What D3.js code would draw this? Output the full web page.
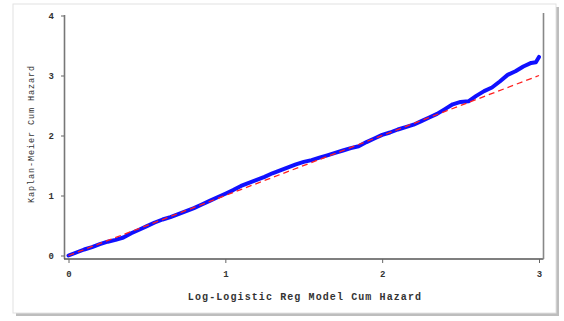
<!DOCTYPE html>
<html>
<head>
<meta charset="utf-8">
<script src="https://cdn.jsdelivr.net/npm/d3@7"></script>
<style>
  body { margin: 0; background: #fff; }
  text { font-family: "Liberation Mono", "DejaVu Sans Mono", monospace; fill: #333; }
</style>
</head>
<body>
<div id="chart"></div>
<script>
// model cum hazard (x) vs Kaplan-Meier cum hazard (y)
const modelHaz = [0, 0.05, 0.1, 0.15, 0.2, 0.25, 0.3, 0.35, 0.4, 0.45, 0.5, 0.55, 0.6, 0.65, 0.7, 0.75,
  0.8, 0.85, 0.9, 0.95, 1.0, 1.05, 1.1, 1.15, 1.2, 1.25, 1.3, 1.35, 1.4, 1.45, 1.5, 1.55, 1.6, 1.65,
  1.7, 1.75, 1.8, 1.85, 1.9, 1.95, 2.0, 2.05, 2.1, 2.15, 2.2, 2.25, 2.3, 2.35, 2.4, 2.45, 2.5, 2.55,
  2.6, 2.65, 2.7, 2.75, 2.8, 2.85, 2.9, 2.95, 2.98, 3.0]
const kmHaz = [0, 0.05, 0.1, 0.14, 0.19, 0.23, 0.26, 0.30, 0.37, 0.43, 0.49, 0.55, 0.60, 0.64, 0.69, 0.74,
  0.79, 0.85, 0.91, 0.97, 1.03, 1.09, 1.16, 1.21, 1.26, 1.31, 1.37, 1.42, 1.47, 1.52, 1.56, 1.59, 1.63, 1.67,
  1.71, 1.75, 1.79, 1.82, 1.89, 1.95, 2.01, 2.05, 2.1, 2.14, 2.18, 2.24, 2.3, 2.36, 2.44, 2.52, 2.56, 2.57,
  2.66, 2.74, 2.80, 2.90, 3.01, 3.07, 3.15, 3.21, 3.22, 3.31]
const refLine = [0, 3]
const xTicks = [0, 1, 2, 3]
const yTicks = [0, 1, 2, 3, 4]

const W = 564, H = 321

const svg = d3.select('#chart').append('svg')
    .attr('width', W)
    .attr('height', H)

// frame with soft shadow
svg.append('rect')
    .attr('x', 16).attr('y', 7).attr('width', 543).attr('height', 309)
    .attr('fill', '#bdbdbd')
svg.append('rect')
    .attr('x', 13).attr('y', 4).attr('width', 543).attr('height', 309)
    .attr('fill', '#fff')
    .attr('stroke', '#e2e2e2')

var x = d3.scaleLinear().domain([0, 3]).range([68.5, 539])
var y = d3.scaleLinear().domain([0, 4]).range([255.5, 15.5])

// axis lines
svg.append('line').attr('x1', 64.5).attr('x2', 64.5).attr('y1', 15).attr('y2', 259)
    .attr('stroke', '#777').attr('stroke-width', 1.6)
svg.append('line').attr('x1', 64).attr('x2', 543.5).attr('y1', 259).attr('y2', 259)
    .attr('stroke', '#555').attr('stroke-width', 1.4)
svg.append('line').attr('x1', 543.5).attr('x2', 543.5).attr('y1', 13).attr('y2', 259)
    .attr('stroke', '#888').attr('stroke-width', 1.6)

var yAxis = svg.append('g')
    .attr('transform', 'translate(64,0)')
    .call(d3.axisLeft(y).tickValues(yTicks).tickFormat(d3.format('d')).tickSize(3).tickPadding(7))
yAxis.select('.domain').remove()
yAxis.selectAll('line').attr('stroke', '#666')
yAxis.selectAll('text').style('font-size', '9px').style('font-weight', 'bold').attr('fill', '#444')

var xAxis = svg.append('g')
    .attr('transform', 'translate(0,259)')
    .call(d3.axisBottom(x).tickValues(xTicks).tickFormat(d3.format('d')).tickSize(4).tickPadding(8))
xAxis.select('.domain').remove()
xAxis.selectAll('line').attr('stroke', '#666')
xAxis.selectAll('text').style('font-size', '9px').style('font-weight', 'bold').attr('fill', '#444')

// titles
svg.append('text')
    .attr('x', 305).attr('y', 300)
    .attr('text-anchor', 'middle')
    .style('font-size', '10px')
    .style('letter-spacing', '1.1px')
    .style('font-weight', 'bold')
    .attr('fill', '#444')
    .text('Log-Logistic Reg Model Cum Hazard')

svg.append('text')
    .attr('transform', 'translate(34,134) rotate(-90)')
    .attr('text-anchor', 'middle')
    .style('font-size', '8.5px')
    .style('letter-spacing', '0.9px')
    .attr('fill', '#666')
    .text('Kaplan-Meier Cum Hazard')

// data
var pts = modelHaz.map((d, i) => [d, kmHaz[i]])
var line = d3.line().x(d => x(d[0])).y(d => y(d[1])).curve(d3.curveLinear)

svg.append('path')
    .datum(pts)
    .attr('d', line)
    .attr('fill', 'none')
    .attr('stroke', '#1010ff')
    .attr('stroke-width', 4)
    .attr('stroke-linejoin', 'round')
    .attr('stroke-linecap', 'round')

svg.append('path')
    .datum(refLine.map(v => [v, v]))
    .attr('d', line)
    .attr('fill', 'none')
    .attr('stroke', '#ff2020')
    .attr('stroke-width', 1.3)
    .attr('stroke-dasharray', '6,4')
</script>
</body>
</html>
